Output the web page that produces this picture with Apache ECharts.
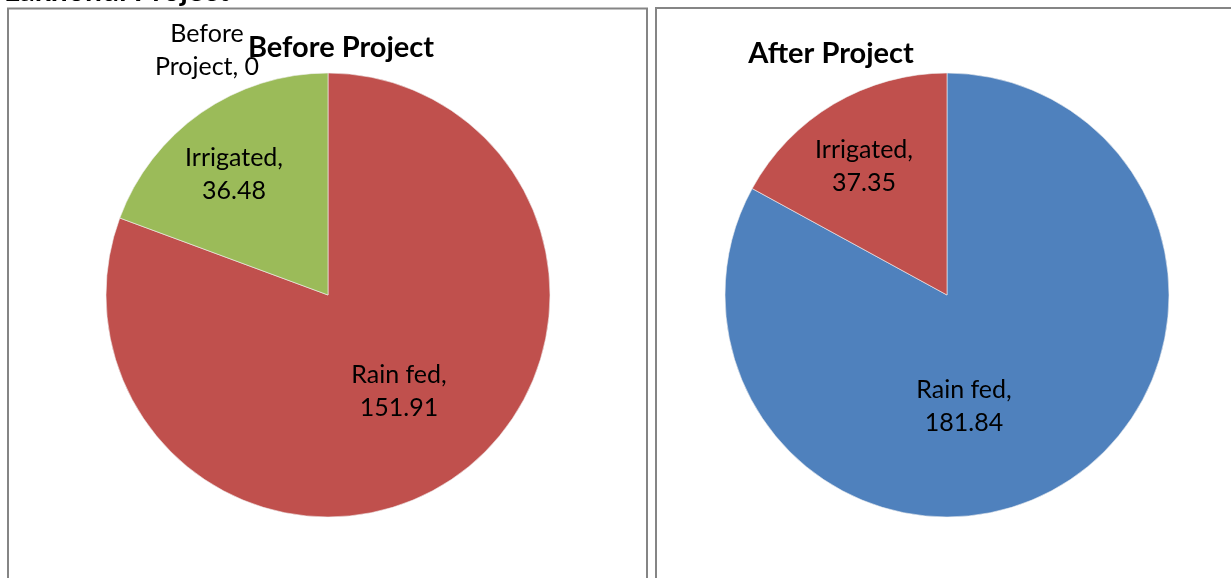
<!DOCTYPE html>
<html>
<head>
<meta charset="utf-8" />
<title>Before / After Project</title>
<script src="https://cdn.jsdelivr.net/npm/echarts@6/dist/echarts.min.js"></script>
<style>
  html, body { margin: 0; padding: 0; background: #fff; }
  #main { width: 1231px; height: 578px; }
</style>
</head>
<body>
<div id="main"></div>
<script type="text/javascript">
// data
var beforeNames = ['Before Project', 'Rain fed', 'Irrigated'];
var beforeValues = [0, 151.91, 36.48];
var afterNames = ['Rain fed', 'Irrigated'];
var afterValues = [181.84, 37.35];

var beforeColors = ['#4F81BD', '#C0504D', '#9BBB59'];
var afterColors = ['#4F81BD', '#C0504D'];

// where Excel put the data labels (label centre), same order as the data
var beforeLabelPos = [[207, 50], [399, 391], [234, 174]];
var afterLabelPos = [[964, 406], [864, 166]];

var FONT = 'Lato';

function toData(names, values, colors) {
    var out = [];
    for (var i = 0; i < names.length; i++) {
        out.push({ name: names[i], value: values[i], itemStyle: { color: colors[i] } });
    }
    return out;
}

function labelAt(pos) {
    return function (params) {
        var p = pos[params.dataIndex];
        return { x: p[0], y: p[1], align: 'center', verticalAlign: 'middle' };
    };
}

var pieLabel = {
    show: true,
    position: 'inside',
    color: '#000',
    fontFamily: FONT,
    fontSize: 25,
    lineHeight: 33,
    formatter: function (p) {
        // "Before Project" wraps after its first word, like the original
        return p.name.split(' ').length > 1 && p.name.indexOf('Project') > 0
            ? p.name.replace(' ', '\n') + ', ' + p.value
            : p.name + ',\n' + p.value;
    }
};

var myChart = echarts.init(document.getElementById('main'));

var option = {
    animation: false,
    backgroundColor: '#fff',
    title: [
        {
            text: 'Before Project',
            left: 336, top: 28, textAlign: 'center',
            textStyle: { fontFamily: FONT, fontWeight: 'bold', fontSize: 29, color: '#000' }
        },
        {
            text: 'After Project',
            left: 826, top: 34, textAlign: 'center',
            textStyle: { fontFamily: FONT, fontWeight: 'bold', fontSize: 29, color: '#000' }
        }
    ],
    graphic: [
        {
            type: 'text', left: 4, top: -24, silent: true,
            style: { text: 'Lakhondi Project', fontFamily: FONT, fontWeight: 'bold', fontSize: 30, fill: '#000' }
        },
        {
            type: 'rect', silent: true,
            shape: { x: 8, y: 8.5, width: 639, height: 600 },
            style: { fill: 'none', stroke: '#858585', lineWidth: 2 }
        },
        {
            type: 'rect', silent: true,
            shape: { x: 656, y: 8, width: 600, height: 600 },
            style: { fill: 'none', stroke: '#858585', lineWidth: 2 }
        }
    ],
    series: [
        {
            name: 'Before Project',
            type: 'pie',
            center: [328, 295],
            radius: 222,
            startAngle: 90,
            clockwise: true,
            silent: true,
            avoidLabelOverlap: false,
            itemStyle: { borderColor: '#f2f2f2', borderWidth: 0.6 },
            label: pieLabel,
            labelLine: { show: false },
            labelLayout: labelAt(beforeLabelPos),
            data: toData(beforeNames, beforeValues, beforeColors)
        },
        {
            name: 'After Project',
            type: 'pie',
            center: [947, 295],
            radius: 222,
            startAngle: 90,
            clockwise: true,
            silent: true,
            avoidLabelOverlap: false,
            itemStyle: { borderColor: '#f2f2f2', borderWidth: 0.6 },
            label: pieLabel,
            labelLine: { show: false },
            labelLayout: labelAt(afterLabelPos),
            data: toData(afterNames, afterValues, afterColors)
        }
    ]
};

myChart.setOption(option);
</script>
</body>
</html>
